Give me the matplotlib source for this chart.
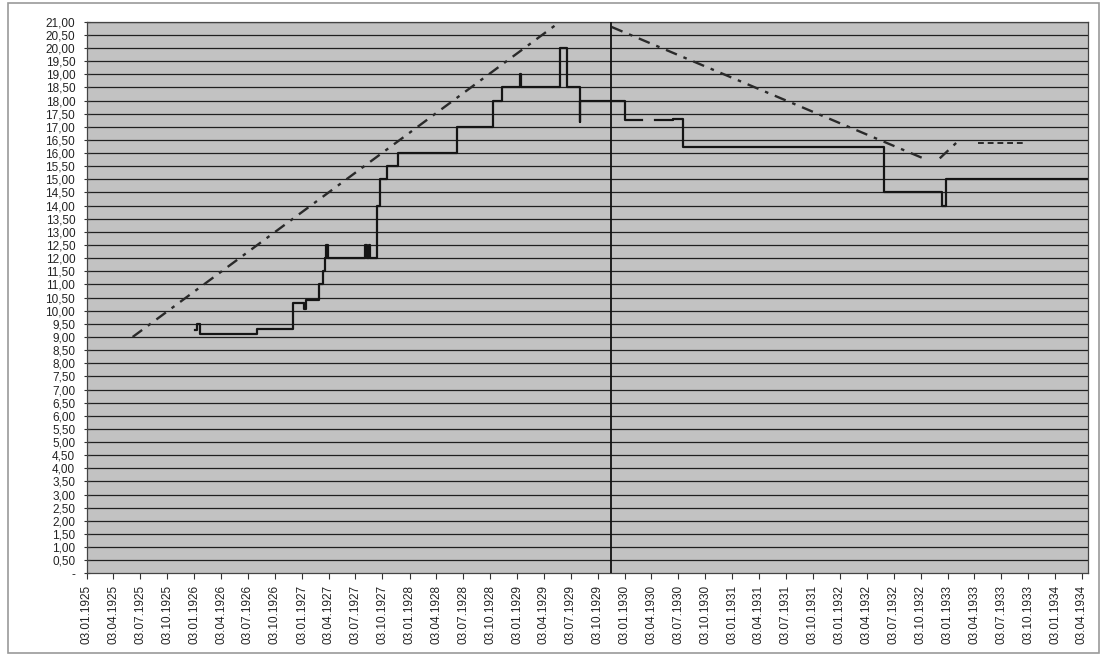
import numpy as np
import pandas as pd
import matplotlib
matplotlib.use("Agg")
import matplotlib.pyplot as plt
import matplotlib.dates as mdates
from matplotlib.patches import Rectangle

# step series (value changes), NaN = gap in the line
step_dates = ["1926-01-04", "1926-01-10", "1926-01-21", "1926-08-02", "1926-12-02",
              "1927-01-10", "1927-01-16", "1927-03-02", "1927-03-14", "1927-03-22",
              "1927-03-27", "1927-04-02", "1927-08-04", "1927-08-11", "1927-08-18",
              "1927-08-23", "1927-09-13", "1927-09-25", "1927-10-17", "1927-11-26",
              "1928-06-13", "1928-10-13", "1928-11-11", "1929-01-12", "1929-01-14",
              "1929-05-27", "1929-06-19", "1929-08-03", "1929-08-05", "1930-01-03",
              "1930-03-01", "1930-04-15", "1930-06-15", "1930-07-18", "1932-05-31",
              "1932-12-13", "1932-12-28", "1934-04-24"]
step_values = [9.25, 9.5, 9.1, 9.3, 10.3,
               10.05, 10.4, 11.0, 11.5, 12.0,
               12.5, 12.0, 12.5, 12.0, 12.5,
               12.0, 14.0, 15.0, 15.5, 16.0,
               17.0, 18.0, 18.5, 19.0, 18.5,
               20.0, 18.5, 17.2, 18.0, 17.25,
               np.nan, 17.25, 17.3, 16.25, 14.5,
               14.0, 15.0, 15.0]

# dash-dot trend lines
trend_up_dates = ["1925-06-07", "1929-05-16"]
trend_up_values = [9.0, 20.9]
trend_down_dates = ["1929-11-19", "1932-10-12", "1932-11-01", "1932-12-07", "1933-02-02"]
trend_down_values = [20.8, 15.8, np.nan, 15.8, 16.4]
trend_flat_dates = ["1933-04-15", "1933-09-15"]
trend_flat_values = [16.4, 16.4]

crash_date = "1929-11-16"

x_start = pd.Timestamp("1925-01-03")
x_end = pd.Timestamp("1934-04-24")
tick_dates = [x_start + pd.DateOffset(months=3 * i) for i in range(38)]
y_ticks = np.arange(0, 21.01, 0.5)

plt.rcParams["font.family"] = ["Liberation Sans", "DejaVu Sans"]

fig = plt.figure(figsize=(11.08, 6.66), dpi=100)
fig.patches.append(Rectangle((0.007, 0.02), 0.985, 0.975, transform=fig.transFigure,
                             fill=False, edgecolor="#9a9a9a", linewidth=1.2))
ax = fig.add_axes([0.0785, 0.139, 0.9034, 0.8284])
ax.set_facecolor("#c2c2c2")

for y in y_ticks[1:]:
    ax.axhline(y, color="#202020", linewidth=0.9, zorder=1)

ax.axvline(pd.Timestamp(crash_date), color="#111111", linewidth=1.3, zorder=3)

ax.plot(pd.to_datetime(step_dates), step_values, drawstyle="steps-post",
        color="#151515", linewidth=1.6, zorder=4)
ax.plot(pd.to_datetime(trend_up_dates), trend_up_values, color="#2a2a2a",
        linewidth=1.7, dashes=(5, 3, 1.5, 3), zorder=4)
ax.plot(pd.to_datetime(trend_down_dates), trend_down_values, color="#2a2a2a",
        linewidth=1.7, dashes=(5, 3, 1.5, 3), zorder=4)
ax.plot(pd.to_datetime(trend_flat_dates), trend_flat_values, color="#2a2a2a",
        linewidth=1.4, dashes=(3, 2), zorder=4)

ax.set_xlim(x_start, x_end)
ax.set_ylim(0, 21)

ax.set_xticks(tick_dates)
ax.xaxis.set_major_formatter(mdates.DateFormatter("%d.%m.%Y"))
ax.tick_params(axis="x", labelrotation=90, labelsize=8.5, length=4, direction="out",
               colors="#333333", pad=4)

ax.set_yticks(y_ticks)
ax.set_yticklabels(["-" if v == 0 else f"{v:.2f}".replace(".", ",") for v in y_ticks])
ax.tick_params(axis="y", labelsize=8.5, length=5, direction="inout", colors="#333333",
               pad=6)
for lbl in ax.get_xticklabels() + ax.get_yticklabels():
    lbl.set_color("#222222")

for side in ["left", "bottom", "top", "right"]:
    ax.spines[side].set_color("#444444")
    ax.spines[side].set_linewidth(0.9)

fig.savefig("out.png", dpi=100)
plt.close(fig)
